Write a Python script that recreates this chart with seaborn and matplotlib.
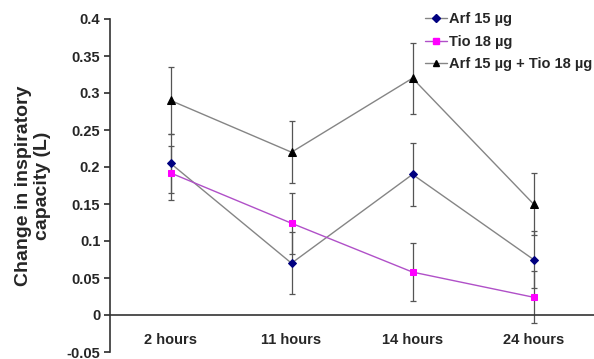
import matplotlib
matplotlib.use("Agg")
import matplotlib.pyplot as plt
import seaborn as sns
import pandas as pd
import numpy as np
from matplotlib.lines import Line2D

categories = ["2 hours", "11 hours", "14 hours", "24 hours"]
series_names = ["Arf 15 µg", "Tio 18 µg", "Arf 15 µg + Tio 18 µg"]
arf = [0.205, 0.070, 0.190, 0.075]
arf_err = [0.040, 0.042, 0.043, 0.038]
tio = [0.192, 0.124, 0.058, 0.024]
tio_err = [0.037, 0.041, 0.039, 0.035]
combo = [0.290, 0.220, 0.320, 0.150]
combo_err = [0.045, 0.042, 0.048, 0.042]
yticks = [-0.05, 0, 0.05, 0.1, 0.15, 0.2, 0.25, 0.3, 0.35, 0.4]
ytick_labels = ["-0.05", "0", "0.05", "0.1", "0.15", "0.2", "0.25", "0.3", "0.35", "0.4"]

sns.set_theme(style="white")
plt.rcParams["font.family"] = ["Liberation Sans", "DejaVu Sans"]
plt.rcParams["font.weight"] = "bold"

fig = plt.figure(figsize=(5.94, 3.59), dpi=100)
ax = fig.add_axes([110/594, 1-352/359, 1-110/594, (352-19)/359])

x = np.arange(len(categories))
df = pd.DataFrame({
    "pos": np.concatenate([x, x, x]),
    "value": arf + tio + combo,
    "series": [series_names[0]]*4 + [series_names[1]]*4 + [series_names[2]]*4,
})

errs = [arf_err, tio_err, combo_err]
vals = [arf, tio, combo]
for v, e in zip(vals, errs):
    ax.errorbar(x, v, yerr=e, fmt="none", ecolor="#555555", elinewidth=0.9,
                capsize=2.5, capthick=0.9, zorder=2)

palette = {series_names[0]: "#858585", series_names[1]: "#B050C8", series_names[2]: "#858585"}
markers = {series_names[0]: "D", series_names[1]: "s", series_names[2]: "^"}
sns.lineplot(data=df, x="pos", y="value", hue="series", style="series",
             palette=palette, markers=markers, dashes=False, linewidth=1.0,
             markersize=5, ax=ax, legend=False, zorder=3)

mcolors = ["#000080", "#FF00FF", "#000000"]
msizes = [4.5, 5, 5.5]
for line, mc, ms in zip(ax.lines[-3:], mcolors, msizes):
    line.set_markerfacecolor(mc)
    line.set_markeredgecolor(mc)
    line.set_markersize(ms)

ax.set_xlim(-0.5, 3.5)
ax.set_ylim(-0.05, 0.4)
ax.spines["top"].set_visible(False)
ax.spines["right"].set_visible(False)
ax.spines["bottom"].set_position(("data", 0))
for s in ["left", "bottom"]:
    ax.spines[s].set_color("#333333")
    ax.spines[s].set_linewidth(1.2)

ax.set_xticks(x)
ax.set_xticklabels(categories, fontsize=10.5, fontweight="bold")
ax.set_xticks([0.5, 1.5, 2.5], minor=True)
ax.tick_params(axis="x", which="major", length=0, pad=13)
ax.tick_params(axis="x", which="minor", length=4, direction="in", color="#333333")
ax.set_yticks(yticks)
ax.set_yticklabels(ytick_labels, fontsize=10.5, fontweight="bold")
ax.tick_params(axis="y", length=4, direction="out", color="#333333", pad=3, left=True)

ax.set_xlabel("")
ax.set_ylabel("Change in inspiratory\ncapacity (L)", fontsize=14, fontweight="bold", labelpad=11)

handles = []
lcols = ["#858585", "#B050C8", "#858585"]
for mk, mc, lc, ms in zip(["D", "s", "^"], mcolors, lcols, [4, 4.5, 5]):
    handles.append(Line2D([], [], color=lc, marker=mk, markerfacecolor=mc,
                          markeredgecolor=mc, markersize=ms, linewidth=1.0))
leg = fig.legend(handles, series_names, loc="upper left", bbox_to_anchor=(425/594, 1-12.5/359),
                 frameon=False, fontsize=10.5, handlelength=1.5, handletextpad=0.15,
                 labelspacing=0.58, borderpad=0, borderaxespad=0)
for t in leg.get_texts():
    t.set_fontweight("bold")

fig.savefig("out.png", dpi=100)
